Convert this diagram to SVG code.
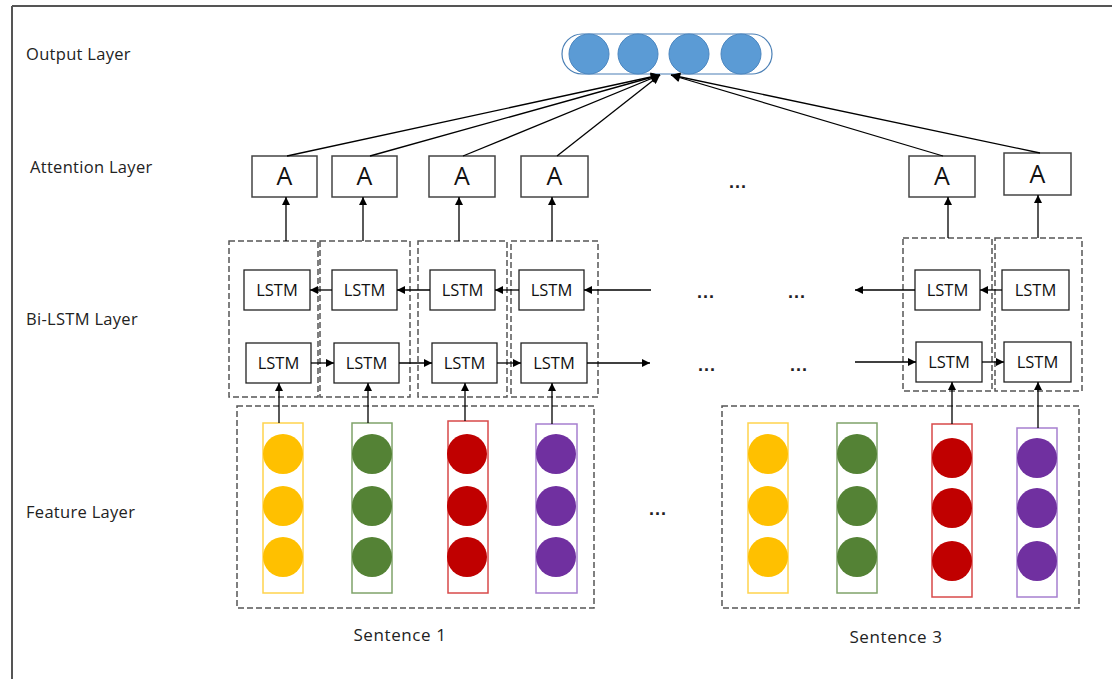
<svg xmlns="http://www.w3.org/2000/svg" width="1112" height="679" viewBox="0 0 1112 679">
<defs>
<marker id="ah" viewBox="0 0 10 10" refX="10" refY="5" markerWidth="10" markerHeight="9" markerUnits="userSpaceOnUse" orient="auto"><path d="M0,0 L10,5 L0,10 z" fill="#000"/></marker>
<marker id="ahs" viewBox="0 0 10 10" refX="10" refY="5" markerWidth="9" markerHeight="8" markerUnits="userSpaceOnUse" orient="auto"><path d="M0,0 L10,5 L0,10 z" fill="#000"/></marker>
<style>
.lbl{font-family:"Open Sans","Liberation Sans",sans-serif;font-size:16.5px;letter-spacing:0.3px;fill:#222}
.snt{font-family:"Open Sans","Liberation Sans",sans-serif;font-size:17px;letter-spacing:0.6px;fill:#222;text-anchor:middle}
.att rect{fill:#fff;stroke:#444;stroke-width:1.5}
.att text{font-family:"Open Sans","Liberation Sans",sans-serif;font-size:25px;fill:#111;text-anchor:middle}
.lstm rect{fill:#fff;stroke:#222;stroke-width:1.3}
.lstm text{font-family:"Open Sans","Liberation Sans",sans-serif;font-size:16.5px;fill:#111;text-anchor:middle}
.dash{fill:none;stroke:#555;stroke-width:1.5;stroke-dasharray:6 3}
.conn line{stroke:#000;stroke-width:1.3}
.dots{font-family:"Liberation Sans",sans-serif;font-size:18px;font-weight:bold;fill:#222;letter-spacing:1px;text-anchor:middle}
.oc{fill:#5b9bd5;stroke:#4a86c0;stroke-width:1}
.y{fill:#ffc000}.g{fill:#548235}.r{fill:#c00000}.p{fill:#7030a0}
.col{fill:#fff;stroke-width:1.5}
</style>
</defs>
<rect width="1112" height="679" fill="#fff"/>
<g id="frame" stroke="#555" stroke-width="2" fill="none">
<line x1="12" y1="6" x2="1112" y2="6"/>
<line x1="12" y1="6" x2="12" y2="679"/>
</g>
<g id="labels">
<text class="lbl" x="26" y="60">Output Layer</text>
<text class="lbl" x="30" y="173">Attention Layer</text>
<text class="lbl" x="26" y="325">Bi-LSTM Layer</text>
<text class="lbl" x="26" y="518">Feature Layer</text>
<text class="snt" x="400" y="641">Sentence 1</text>
<text class="snt" x="896" y="643">Sentence 3</text>
</g>
<g id="output">
<rect x="562" y="34" width="210" height="40" rx="20" fill="#fff" stroke="#4a7fb5" stroke-width="1.2"/>
<circle class="oc" cx="589" cy="54" r="20"/>
<circle class="oc" cx="638" cy="54" r="20"/>
<circle class="oc" cx="689" cy="54" r="20"/>
<circle class="oc" cx="741" cy="54" r="20"/>
</g>
<g id="attention" class="att">
<g id="a1"><rect x="252" y="156" width="65" height="41"/><text x="284.5" y="185">A</text></g>
<g id="a2"><rect x="332" y="156" width="65" height="41"/><text x="364.5" y="185">A</text></g>
<g id="a3"><rect x="429" y="156" width="66" height="41"/><text x="462" y="185">A</text></g>
<g id="a4"><rect x="521" y="156" width="67" height="41"/><text x="554.5" y="185">A</text></g>
<g id="a5"><rect x="909" y="156" width="66" height="41"/><text x="942" y="185">A</text></g>
<g id="a6"><rect x="1004" y="153" width="67" height="42"/><text x="1037.5" y="183">A</text></g>
</g>
<g id="bilstm-cells">
<rect class="dash" x="229" y="241" width="89" height="156"/>
<rect class="dash" x="320" y="241" width="90" height="156"/>
<rect class="dash" x="418" y="241" width="89" height="156"/>
<rect class="dash" x="511" y="241" width="87" height="156"/>
<rect class="dash" x="903" y="238" width="89" height="153"/>
<rect class="dash" x="995" y="238" width="87" height="153"/>
</g>
<g id="lstm" class="lstm">
<g id="lf1"><rect x="244" y="270" width="66" height="40"/><text x="277" y="296">LSTM</text></g>
<g id="lf2"><rect x="332" y="270" width="65" height="40"/><text x="364.5" y="296">LSTM</text></g>
<g id="lf3"><rect x="430" y="270" width="65" height="40"/><text x="462.5" y="296">LSTM</text></g>
<g id="lf4"><rect x="519" y="270" width="65" height="40"/><text x="551.5" y="296">LSTM</text></g>
<g id="lf5"><rect x="915" y="270" width="65" height="40"/><text x="947.5" y="296">LSTM</text></g>
<g id="lf6"><rect x="1002" y="270" width="67" height="40"/><text x="1035.5" y="296">LSTM</text></g>
<g id="lb1"><rect x="246" y="343" width="65" height="40"/><text x="278.5" y="369">LSTM</text></g>
<g id="lb2"><rect x="334" y="343" width="65" height="40"/><text x="366.5" y="369">LSTM</text></g>
<g id="lb3"><rect x="432" y="343" width="65" height="40"/><text x="464.5" y="369">LSTM</text></g>
<g id="lb4"><rect x="521" y="343" width="66" height="40"/><text x="554" y="369">LSTM</text></g>
<g id="lb5"><rect x="916" y="342" width="66" height="40"/><text x="949" y="368">LSTM</text></g>
<g id="lb6"><rect x="1004" y="342" width="67" height="40"/><text x="1037.5" y="368">LSTM</text></g>
</g>
<g id="features">
<rect class="dash" x="237" y="406" width="357" height="202"/>
<rect class="dash" x="722" y="406" width="357" height="202"/>
<g id="f1y"><rect class="col" x="263" y="423" width="40" height="170" stroke="#ffd34d"/><circle class="y" cx="283" cy="454" r="20"/><circle class="y" cx="283" cy="506" r="20"/><circle class="y" cx="283" cy="557" r="20"/></g>
<g id="f1g"><rect class="col" x="352" y="423" width="40" height="170" stroke="#7fa36a"/><circle class="g" cx="372" cy="454" r="20"/><circle class="g" cx="372" cy="506" r="20"/><circle class="g" cx="372" cy="557" r="20"/></g>
<g id="f1r"><rect class="col" x="448" y="421" width="40" height="172" stroke="#d84a4a"/><circle class="r" cx="467" cy="454" r="20"/><circle class="r" cx="467" cy="506" r="20"/><circle class="r" cx="467" cy="557" r="20"/></g>
<g id="f1p"><rect class="col" x="536" y="424" width="41" height="169" stroke="#a67fcf"/><circle class="p" cx="556" cy="454" r="20"/><circle class="p" cx="556" cy="506" r="20"/><circle class="p" cx="556" cy="557" r="20"/></g>
<g id="f3y"><rect class="col" x="748" y="423" width="40" height="170" stroke="#ffd34d"/><circle class="y" cx="768" cy="454" r="20"/><circle class="y" cx="768" cy="506" r="20"/><circle class="y" cx="768" cy="557" r="20"/></g>
<g id="f3g"><rect class="col" x="837" y="423" width="40" height="170" stroke="#7fa36a"/><circle class="g" cx="857" cy="454" r="20"/><circle class="g" cx="857" cy="506" r="20"/><circle class="g" cx="857" cy="557" r="20"/></g>
<g id="f3r"><rect class="col" x="932" y="424" width="40" height="173" stroke="#d84a4a"/><circle class="r" cx="952" cy="458" r="20"/><circle class="r" cx="952" cy="508" r="20"/><circle class="r" cx="952" cy="561" r="20"/></g>
<g id="f3p"><rect class="col" x="1017" y="428" width="40" height="169" stroke="#a67fcf"/><circle class="p" cx="1037" cy="458" r="20"/><circle class="p" cx="1037" cy="508" r="20"/><circle class="p" cx="1037" cy="561" r="20"/></g>
</g>
<g id="dots">
<text class="dots" x="738" y="188">...</text>
<text class="dots" x="706" y="298">...</text>
<text class="dots" x="797" y="298">...</text>
<text class="dots" x="707" y="371">...</text>
<text class="dots" x="799" y="371">...</text>
<text class="dots" x="658" y="515">...</text>
</g>
<g id="connectors" class="conn">
<line x1="287" y1="156" x2="660" y2="75" marker-end="url(#ah)"/>
<line x1="370" y1="156" x2="660" y2="75" marker-end="url(#ah)"/>
<line x1="463" y1="156" x2="660" y2="75" marker-end="url(#ah)"/>
<line x1="557" y1="156" x2="660" y2="75" marker-end="url(#ah)"/>
<line x1="943" y1="156" x2="671" y2="75" marker-end="url(#ah)"/>
<line x1="1040" y1="153" x2="671" y2="75" marker-end="url(#ah)"/>
<line x1="286" y1="241" x2="286" y2="197" marker-end="url(#ahs)"/>
<line x1="363" y1="241" x2="363" y2="197" marker-end="url(#ahs)"/>
<line x1="459" y1="241" x2="459" y2="197" marker-end="url(#ahs)"/>
<line x1="552" y1="241" x2="552" y2="197" marker-end="url(#ahs)"/>
<line x1="948" y1="238" x2="948" y2="197" marker-end="url(#ahs)"/>
<line x1="1038" y1="238" x2="1038" y2="195" marker-end="url(#ahs)"/>
<line x1="651" y1="290" x2="584" y2="290" marker-end="url(#ahs)"/>
<line x1="519" y1="290" x2="495" y2="290" marker-end="url(#ahs)"/>
<line x1="430" y1="290" x2="397" y2="290" marker-end="url(#ahs)"/>
<line x1="332" y1="290" x2="310" y2="290" marker-end="url(#ahs)"/>
<line x1="915" y1="290" x2="855" y2="290" marker-end="url(#ahs)"/>
<line x1="1002" y1="290" x2="980" y2="290" marker-end="url(#ahs)"/>
<line x1="311" y1="363" x2="334" y2="363" marker-end="url(#ahs)"/>
<line x1="399" y1="363" x2="432" y2="363" marker-end="url(#ahs)"/>
<line x1="497" y1="363" x2="521" y2="363" marker-end="url(#ahs)"/>
<line x1="587" y1="363" x2="650" y2="363" marker-end="url(#ahs)"/>
<line x1="855" y1="362" x2="916" y2="362" marker-end="url(#ahs)"/>
<line x1="982" y1="362" x2="1004" y2="362" marker-end="url(#ahs)"/>
<line x1="279" y1="423" x2="279" y2="383" marker-end="url(#ahs)"/>
<line x1="368" y1="423" x2="368" y2="383" marker-end="url(#ahs)"/>
<line x1="465" y1="421" x2="465" y2="383" marker-end="url(#ahs)"/>
<line x1="552" y1="424" x2="552" y2="383" marker-end="url(#ahs)"/>
<line x1="952" y1="424" x2="952" y2="382" marker-end="url(#ahs)"/>
<line x1="1038" y1="428" x2="1038" y2="382" marker-end="url(#ahs)"/>
</g>
</svg>
